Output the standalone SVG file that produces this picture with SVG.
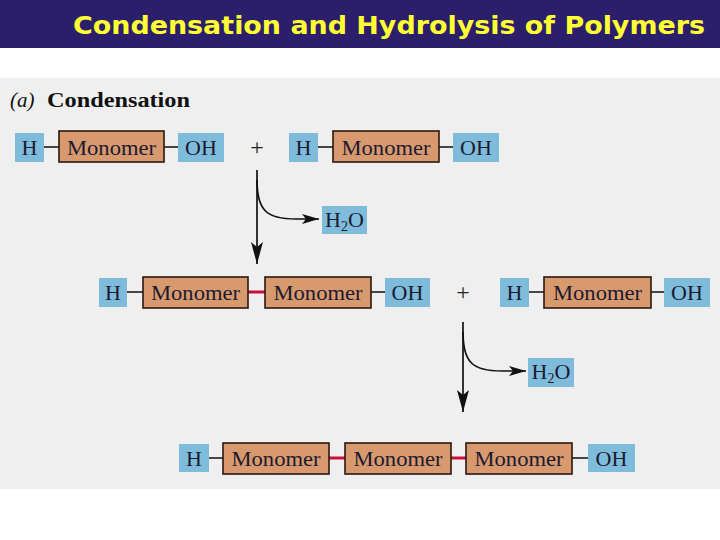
<svg xmlns="http://www.w3.org/2000/svg" width="720" height="540" viewBox="0 0 720 540">
<defs>
<style>
.blue{fill:#7fbcdc}
.mono{fill:#d9996f;stroke:#2a1810;stroke-width:1.6}
.t{font-family:"Liberation Serif","DejaVu Serif",serif;font-size:22px;fill:#1b1b30;text-anchor:middle}
.bond{stroke:#1b1b1b;stroke-width:1.6}
.red{stroke:#c8103a;stroke-width:3}
.arr{fill:none;stroke:#111;stroke-width:1.7}
.plus{font-family:"Liberation Serif",serif;font-size:24px;fill:#222;text-anchor:middle}
</style>
<marker id="ah" viewBox="0 0 22 12" refX="22" refY="6" markerWidth="22" markerHeight="12" markerUnits="userSpaceOnUse" orient="auto">
<path d="M0,0 L22,6 L0,12 L5,6 Z" fill="#111"/>
</marker>
<marker id="ah2" viewBox="0 0 17 10" refX="17" refY="5" markerWidth="17" markerHeight="10" markerUnits="userSpaceOnUse" orient="auto">
<path d="M0,0 L17,5 L0,10 L4,5 Z" fill="#111"/>
</marker>
</defs>
<rect x="0" y="0" width="720" height="540" fill="#ffffff"/>
<rect x="0" y="0" width="720" height="48" fill="#2b1e6a"/>
<text x="73" y="34" font-family="'DejaVu Sans','Liberation Sans',sans-serif" font-size="25" font-weight="bold" fill="#ffff33" textLength="632" lengthAdjust="spacingAndGlyphs">Condensation and Hydrolysis of Polymers</text>
<rect x="0" y="78" width="720" height="411" fill="#efefef"/>
<text x="10" y="107" font-family="'Liberation Serif',serif" font-size="21" fill="#111" font-style="italic">(a)</text>
<text x="47" y="107" font-family="'Liberation Serif',serif" font-size="21" font-weight="bold" fill="#111" textLength="143" lengthAdjust="spacingAndGlyphs">Condensation</text>

<g id="connectors">
<line class="bond" x1="44" y1="147" x2="59" y2="147"/>
<line class="bond" x1="164" y1="147" x2="178" y2="147"/>
<line class="bond" x1="318" y1="147" x2="333" y2="147"/>
<line class="bond" x1="439" y1="147" x2="453" y2="147"/>
<line class="bond" x1="127" y1="292" x2="143" y2="292"/>
<line class="red" x1="248" y1="292" x2="265" y2="292"/>
<line class="bond" x1="371" y1="292" x2="385" y2="292"/>
<line class="bond" x1="529" y1="292" x2="544" y2="292"/>
<line class="bond" x1="651" y1="292" x2="664" y2="292"/>
<line class="bond" x1="209" y1="458" x2="223" y2="458"/>
<line class="red" x1="329" y1="458" x2="345" y2="458"/>
<line class="red" x1="451" y1="458" x2="466" y2="458"/>
<line class="bond" x1="572" y1="458" x2="588" y2="458"/>
<line class="arr" x1="257" y1="170" x2="257" y2="264" marker-end="url(#ah)"/>
<path class="arr" d="M257,180 C257,210 266,219 296,219 L319,219" marker-end="url(#ah2)"/>
<line class="arr" x1="463" y1="322" x2="463" y2="412" marker-end="url(#ah)"/>
<path class="arr" d="M463,332 C463,362 472,371 502,371 L526,371" marker-end="url(#ah2)"/>
</g>

<text class="plus" x="257" y="155">+</text>
<text class="plus" x="463" y="300">+</text>

<g id="r1-h1"><rect class="blue" x="15" y="133" width="29" height="29"/><text class="t" x="29.5" y="155">H</text></g>
<g id="r1-m1"><rect class="mono" x="59" y="131" width="105" height="31"/><text class="t" x="111.5" y="155" textLength="89" lengthAdjust="spacingAndGlyphs">Monomer</text></g>
<g id="r1-oh1"><rect class="blue" x="178" y="133" width="46" height="29"/><text class="t" x="201" y="155">OH</text></g>
<g id="r1-h2"><rect class="blue" x="289" y="133" width="29" height="29"/><text class="t" x="303.5" y="155">H</text></g>
<g id="r1-m2"><rect class="mono" x="333" y="131" width="106" height="31"/><text class="t" x="386" y="155" textLength="89" lengthAdjust="spacingAndGlyphs">Monomer</text></g>
<g id="r1-oh2"><rect class="blue" x="453" y="133" width="46" height="29"/><text class="t" x="476" y="155">OH</text></g>
<g id="water1"><rect class="blue" x="322" y="206" width="45" height="28"/><text class="t" x="344.5" y="227">H<tspan font-size="14" dy="4">2</tspan><tspan dy="-4">O</tspan></text></g>

<g id="r2-h1"><rect class="blue" x="99" y="278" width="28" height="29"/><text class="t" x="113" y="300">H</text></g>
<g id="r2-m1"><rect class="mono" x="143" y="277" width="105" height="31"/><text class="t" x="195.5" y="300" textLength="89" lengthAdjust="spacingAndGlyphs">Monomer</text></g>
<g id="r2-m2"><rect class="mono" x="265" y="277" width="106" height="31"/><text class="t" x="318" y="300" textLength="89" lengthAdjust="spacingAndGlyphs">Monomer</text></g>
<g id="r2-oh1"><rect class="blue" x="385" y="278" width="45" height="29"/><text class="t" x="407.5" y="300">OH</text></g>
<g id="r2-h2"><rect class="blue" x="500" y="278" width="29" height="29"/><text class="t" x="514.5" y="300">H</text></g>
<g id="r2-m3"><rect class="mono" x="544" y="277" width="107" height="31"/><text class="t" x="597.5" y="300" textLength="89" lengthAdjust="spacingAndGlyphs">Monomer</text></g>
<g id="r2-oh2"><rect class="blue" x="664" y="278" width="46" height="29"/><text class="t" x="687" y="300">OH</text></g>
<g id="water2"><rect class="blue" x="528" y="358" width="46" height="29"/><text class="t" x="551" y="379">H<tspan font-size="14" dy="4">2</tspan><tspan dy="-4">O</tspan></text></g>

<g id="r3-h"><rect class="blue" x="179" y="444" width="30" height="28"/><text class="t" x="194" y="466">H</text></g>
<g id="r3-m1"><rect class="mono" x="223" y="443" width="106" height="31"/><text class="t" x="276" y="466" textLength="89" lengthAdjust="spacingAndGlyphs">Monomer</text></g>
<g id="r3-m2"><rect class="mono" x="345" y="443" width="106" height="31"/><text class="t" x="398" y="466" textLength="89" lengthAdjust="spacingAndGlyphs">Monomer</text></g>
<g id="r3-m3"><rect class="mono" x="466" y="443" width="106" height="31"/><text class="t" x="519" y="466" textLength="89" lengthAdjust="spacingAndGlyphs">Monomer</text></g>
<g id="r3-oh"><rect class="blue" x="588" y="444" width="47" height="28"/><text class="t" x="611.5" y="466">OH</text></g>
</svg>
